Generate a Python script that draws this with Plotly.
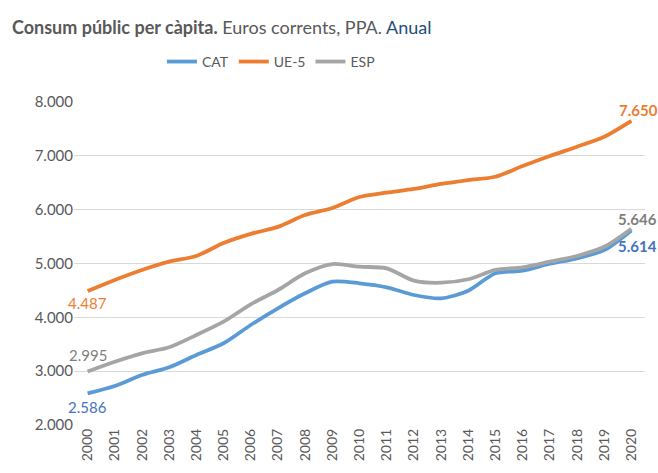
import plotly.graph_objects as go

years = [str(y) for y in range(2000, 2021)]
cat = [2586, 2725, 2929, 3072, 3300, 3518, 3858, 4168, 4446, 4662, 4632, 4558, 4415, 4353, 4495, 4818, 4866, 4995, 5096, 5250, 5614]
ue5 = [4487, 4694, 4880, 5034, 5140, 5380, 5550, 5680, 5900, 6030, 6235, 6315, 6384, 6477, 6550, 6612, 6810, 6997, 7170, 7355, 7650]
esp = [2995, 3176, 3332, 3443, 3672, 3919, 4242, 4508, 4818, 4990, 4940, 4911, 4681, 4643, 4707, 4880, 4930, 5034, 5140, 5310, 5646]

FONT = "Lato"
fig = go.Figure()
series = [("CAT", cat, "#5B9BD5"), ("UE-5", ue5, "#ED7D31"), ("ESP", esp, "#A5A5A5")]
for name, vals, col in series:
    fig.add_trace(go.Scatter(x=years, y=vals, name=name, mode="lines",
                             line=dict(color=col, width=3.8, shape="spline", smoothing=0.8)))

def fmt(v):
    return f"{v:,}".replace(",", ".")

n = len(years)
def xpos(i):
    return (i + 0.5) / n

ann = [
    (0, ue5[0], "#ED7D31", False, -12, 0),
    (0, esp[0], "#7F7F7F", False, 16, 0),
    (0, cat[0], "#4472C4", False, -14, 0),
    (n - 1, ue5[-1], "#ED7D31", True, 11, 7),
    (n - 1, esp[-1], "#7F7F7F", True, 10, 6),
    (n - 1, cat[-1], "#4472C4", True, -16, 6),
]
for i, y, col, bold, ys, xs in ann:
    t = fmt(y)
    if bold:
        t = "<b>" + t + "</b>"
    fig.add_annotation(x=xpos(i), y=y, xref="paper", yref="y", text=t, showarrow=False,
                       xanchor="center", yanchor="middle",
                       yshift=ys, xshift=xs,
                       font=dict(family=FONT, size=15, color=col))

fig.add_annotation(xref="paper", yref="paper", x=-0.112, y=1.232, xanchor="left", yanchor="middle",
                   showarrow=False,
                   text="<b>Consum públic per càpita.</b> Euros corrents, PPA. <span style='color:#1F4E79'>Anual</span>",
                   font=dict(family=FONT, size=18, color="#595959"))

fig.update_layout(
    width=658, height=473,
    margin=dict(l=74, r=13, t=102, b=48, autoexpand=False),
    paper_bgcolor="white", plot_bgcolor="white",
    separators=",.",
    showlegend=True,
    legend=dict(orientation="h", x=0.154, y=1.124, xanchor="left", yanchor="middle",
                font=dict(family=FONT, size=14, color="#595959"), itemwidth=30,
                tracegroupgap=0),
    xaxis=dict(type="category", range=[-0.5, 20.5], tickangle=-90, showgrid=False,
               ticks="", showline=False, automargin=False,
               tickfont=dict(family=FONT, size=14, color="#595959")),
    yaxis=dict(range=[2000, 8000], dtick=1000, tickformat=",d", gridcolor="#D9D9D9",
               gridwidth=1, zeroline=False, ticks="", showline=False, automargin=False,
               tickfont=dict(family=FONT, size=15, color="#595959")),
)
fig.write_html("out.html", post_script="document.body.style.margin='0';",
               config={"displayModeBar": False})
